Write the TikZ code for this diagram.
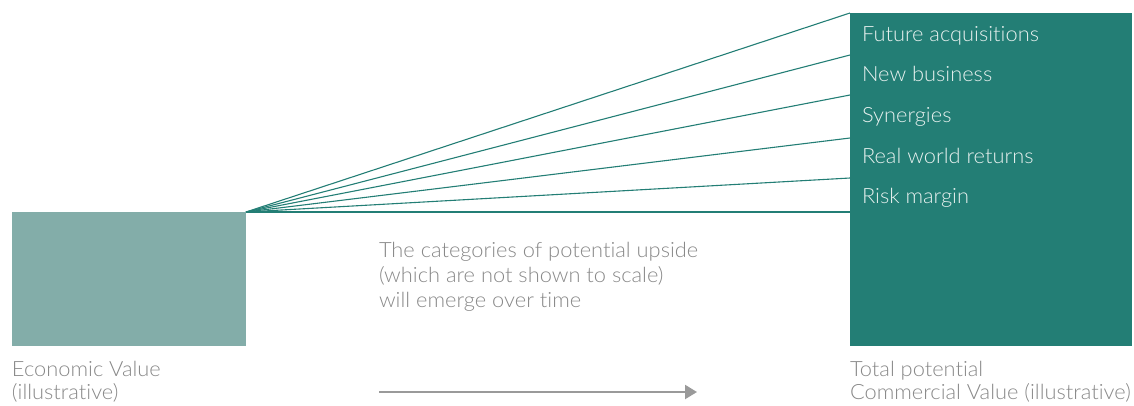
\documentclass[tikz,border=0pt]{standalone}
\usepackage{fontspec}
\setmainfont{Lato}[UprightFont=* Light, FakeStretch=1.04, Ligatures=NoCommon, RawFeature={-liga;-dlig}]
\usetikzlibrary{arrows.meta}
\definecolor{evfill}{HTML}{83ADA9}
\definecolor{tcvfill}{HTML}{237E75}
\definecolor{labelgrey}{HTML}{888888}
\definecolor{cattext}{HTML}{E8F1EF}
\definecolor{arrowgrey}{HTML}{9A9A9A}
\begin{document}
\begin{tikzpicture}[x=1pt,y=-1pt,
  every node/.style={inner sep=0pt, outer sep=0pt},
  lbl/.style={anchor=base west, font=\fontsize{21}{25}\selectfont, text=labelgrey},
  cat/.style={anchor=base west, font=\fontsize{21}{25}\selectfont, text=cattext},
  ray/.style={draw=tcvfill, line width=1.1pt}]
\useasboundingbox (0,0) rectangle (1134,405);

% value blocks
\node[fill=evfill, minimum width=234, minimum height=134, anchor=north west] (ev) at (12,212) {};
\node[fill=tcvfill, minimum width=282, minimum height=333, anchor=north west] (tcv) at (850,13) {};

% end points of the rays on the left edge of the commercial value block
\coordinate (r1) at (tcv.north west);
\coordinate (r2) at (850,55);
\coordinate (r3) at (850,95);
\coordinate (r4) at (850,138);
\coordinate (r5) at (850,178);
\coordinate (r6) at (850,212);
\foreach \r in {r1,r2,r3,r4,r5,r6}
  \draw[ray] (ev.north east) -- (\r);

% categories of upside
\node[cat] (c1) at (862,41) {Future acquisitions};
\node[cat] (c2) at (862,81) {New business};
\node[cat] (c3) at (862,122) {Synergies};
\node[cat] (c4) at (862,163) {Real world returns};
\node[cat] (c5) at (862,203) {Risk margin};

% captions
\node[lbl] (ev1) at (12,376) {Economic Value};
\node[lbl] (ev2) at (12,399) {(illustrative)};
\node[lbl] (tc1) at (850,376) {Total potential};
\node[lbl] (tc2) at (850,399) {Commercial Value (illustrative)};
\node[lbl] (m1) at (379,257) {The categories of potential upside};
\node[lbl] (m2) at (379,282) {(which are not shown to scale)};
\node[lbl] (m3) at (379,307) {will emerge over time};

% time arrow
\coordinate (as) at (379,392);
\coordinate (ae) at (697,392);
\draw[draw=arrowgrey, fill=arrowgrey, line width=2.2pt, -{Triangle[length=12pt,width=14pt]}] (as) -- (ae);
\end{tikzpicture}
\end{document}
